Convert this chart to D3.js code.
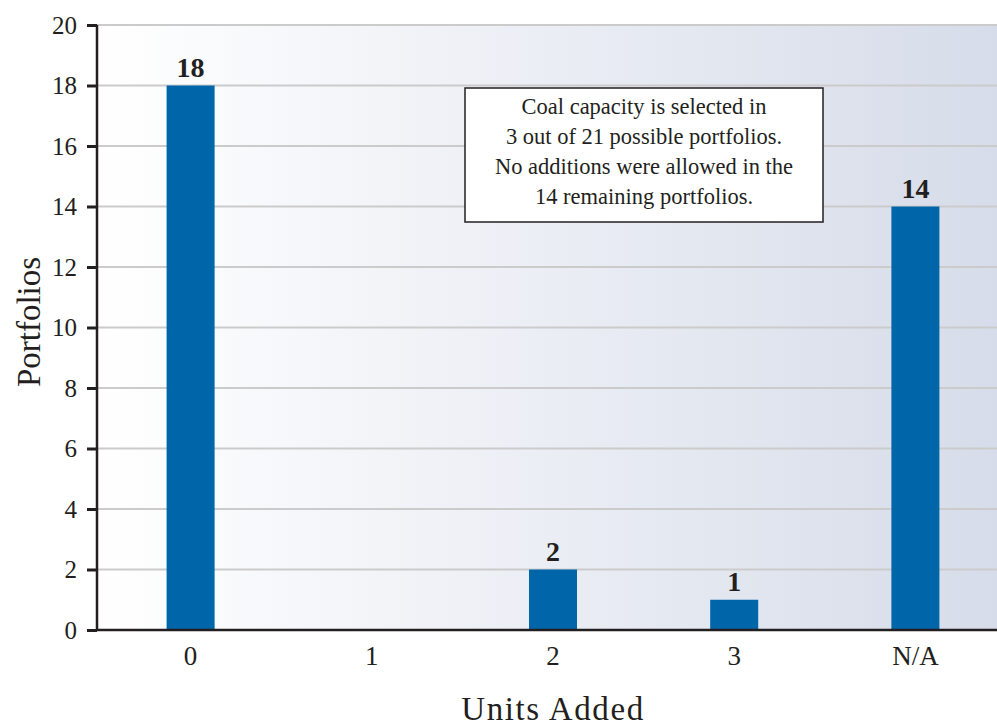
<!DOCTYPE html>
<html><head><meta charset="utf-8">
<script src="https://cdn.jsdelivr.net/npm/d3@7"></script>
<style>body{margin:0;background:#fff}svg{display:block}text{font-family:"Liberation Serif","DejaVu Serif",serif;fill:#231f20}</style>
</head><body><svg id="c" width="997" height="727"></svg>
<script>
const categories = ["0","1","2","3","N/A"];
const values = [18, 0, 2, 1, 14];
const yTicks = [0,2,4,6,8,10,12,14,16,18,20];
const noteLines = ["Coal capacity is selected in","3 out of 21 possible portfolios.","No additions were allowed in the","14 remaining portfolios."];
const xTitle = "Units Added", yTitle = "Portfolios";

const FF = "Liberation Serif, DejaVu Serif, serif";
const svg = d3.select("#c");
const L = 97, R = 997, T = 25, B = 630;
const x = d3.scaleBand().domain(categories).range([100, 1006]).paddingInner(0.735).paddingOuter(0.3675);
const y = d3.scaleLinear().domain([0,20]).range([B, T]);
const data = values.map((v,i)=>({c:categories[i],v})).filter(d=>d.v>0);

const defs = svg.append("defs");
const g = defs.append("linearGradient").attr("id","bg").attr("x1","0").attr("x2","1").attr("y1","0").attr("y2","0");
g.append("stop").attr("offset","0").attr("stop-color","#ffffff");
g.append("stop").attr("offset","1").attr("stop-color","#d6dce9");
svg.append("rect").attr("x",L).attr("y",T).attr("width",R-L).attr("height",B-T).attr("fill","url(#bg)");

// gridlines
svg.append("g").selectAll("line").data(yTicks.filter(d=>d>0)).join("line")
  .attr("x1",L).attr("x2",R).attr("y1",d=>y(d)).attr("y2",d=>y(d))
  .attr("stroke","#cbcbcb").attr("stroke-width",2);

// bars
svg.append("g").selectAll("rect").data(data).join("rect")
  .attr("x",d=>x(d.c)).attr("width",x.bandwidth()).attr("y",d=>y(d.v)).attr("height",d=>B-y(d.v))
  .attr("fill","#0066aa");
svg.append("g").selectAll("text").data(data).join("text")
  .attr("x",d=>x(d.c)+x.bandwidth()/2).attr("y",d=>y(d.v)-8.5).attr("text-anchor","middle")
  .attr("font-family",FF).attr("font-size",28).attr("font-weight","bold").text(d=>d.v);

// y axis
const ya = svg.append("g").attr("transform",`translate(${L},0)`)
  .call(d3.axisLeft(y).tickValues(yTicks).tickSize(10).tickPadding(10).tickFormat(d3.format("d")));
ya.select(".domain").attr("stroke","#231f20").attr("stroke-width",2.5).attr("d",`M0,${T}V${B}`);
ya.selectAll(".tick line").attr("stroke","#231f20").attr("stroke-width",3);
ya.selectAll(".tick text").attr("font-size",25).attr("fill","#231f20").attr("font-family",FF);

// x axis
const xa = svg.append("g").attr("transform",`translate(0,${B})`)
  .call(d3.axisBottom(x).tickSize(0).tickPadding(16));
xa.select(".domain").attr("stroke","#231f20").attr("stroke-width",2.5).attr("d",`M${L},0H${R}`);
xa.selectAll(".tick text").attr("font-size",27).attr("fill","#231f20").attr("font-family",FF);

// titles
svg.append("text").attr("x",553).attr("y",720).attr("text-anchor","middle").attr("font-family",FF).attr("font-size",33).attr("letter-spacing",1.6).text(xTitle);
svg.append("text").attr("transform","translate(40,322) rotate(-90)").attr("text-anchor","middle").attr("font-family",FF).attr("font-size",33).text(yTitle);

// note box
svg.append("rect").attr("x",465).attr("y",88).attr("width",358).attr("height",134).attr("fill","#fff").attr("stroke","#231f20").attr("stroke-width",1.5);
svg.append("g").selectAll("text").data(noteLines).join("text")
  .attr("x",644).attr("y",(d,i)=>114+i*30).attr("text-anchor","middle").attr("font-family",FF).attr("font-size",22.5).text(d=>d);
</script></body></html>
